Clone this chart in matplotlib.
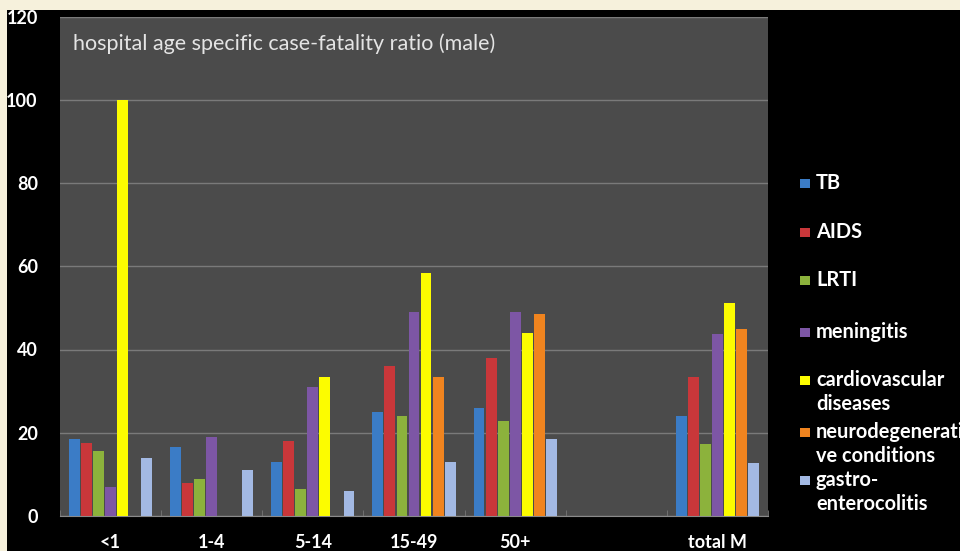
import matplotlib
matplotlib.use("Agg")
import matplotlib.pyplot as plt
from matplotlib.patches import Rectangle
import numpy as np

categories = ["<1", "1-4", "5-14", "15-49", "50+", "", "total M"]
series_names = ["TB", "AIDS", "LRTI", "meningitis", "cardiovascular\ndiseases",
                "neurodegenerati\nve conditions", "gastro-\nenterocolitis"]
tb = [18.6, 16.5, 13, 25, 26, 0, 24]
aids = [17.5, 8, 18, 36, 38, 0, 33.5]
lrti = [15.5, 9, 6.5, 24, 22.8, 0, 17.3]
meningitis = [7, 19, 31, 49, 49, 0, 43.8]
cardio = [100, 0, 33.5, 58.3, 44, 0, 51.2]
neuro = [0, 0, 0, 33.5, 48.6, 0, 45]
gastro = [14, 11, 6, 13, 18.5, 0, 12.8]
yticks = [0, 20, 40, 60, 80, 100, 120]
title = "hospital age specific case-fatality ratio (male)"

colors = ["#3b7cc6", "#c9373a", "#8cb23c", "#7d56a5", "#fcfc00", "#f0841f", "#a3b9e3"]
data = [tb, aids, lrti, meningitis, cardio, neuro, gastro]

plt.rcParams['font.family'] = ['Lato', 'DejaVu Sans']
fig = plt.figure(figsize=(9.6, 5.51), dpi=100)
fig.patch.set_facecolor("#f6f1dc")
bg = Rectangle((7/960, 0), 1, (551-10)/551, transform=fig.transFigure,
               facecolor="black", edgecolor="none", zorder=-5)
fig.patches.append(bg)

ax = fig.add_axes([60/960, (551-516)/551, (768-60)/960, (516-16.5)/551])
ax.set_facecolor("#4b4b4b")
x = np.arange(len(categories))
step = 0.119
w = 0.108
for i, (vals, c) in enumerate(zip(data, colors)):
    ax.bar(x + (i - 3) * step, vals, width=w, color=c, edgecolor="none", zorder=3)

ax.set_xlim(-0.5, len(categories) - 0.5)
ax.set_ylim(0, 120)
ax.set_yticks(yticks)
ax.set_yticklabels([str(v) for v in yticks], color="white", fontsize=13, fontweight="bold")
ax.tick_params(axis="y", length=0, pad=16)
ax.set_xticks(x)
ax.set_xticklabels(categories, color="white", fontsize=13, fontweight="bold")
ax.tick_params(axis="x", length=0, pad=13)
ax.set_xticks(np.arange(-0.5, len(categories)), minor=True)
ax.tick_params(axis="x", which="minor", length=4, color="#777777", direction="in")
ax.grid(axis="y", color="#7a7a7a", linewidth=1, zorder=1)
for s in ["top", "right", "left"]:
    ax.spines[s].set_visible(False)
ax.spines["bottom"].set_color("#8a8a8a")
ax.text(0.018, 0.945, title, transform=ax.transAxes, color="#e4e4e4", fontsize=15.5,
        va="center", ha="left")

legend_y = [183, 232, 280, 332, 380, 432, 480]
for name, c, yy in zip(series_names, colors, legend_y):
    fig.patches.append(Rectangle((800/960, 1 - (yy + 4.5)/551), 10/960, 9/551,
                                 transform=fig.transFigure, facecolor=c, edgecolor="none"))
    fig.text(816/960, 1 - (yy - 10)/551, name, color="white", fontsize=14.4, fontweight="bold",
             va="top", ha="left", linespacing=1.25)

fig.savefig("out.png", dpi=100, facecolor=fig.get_facecolor())
